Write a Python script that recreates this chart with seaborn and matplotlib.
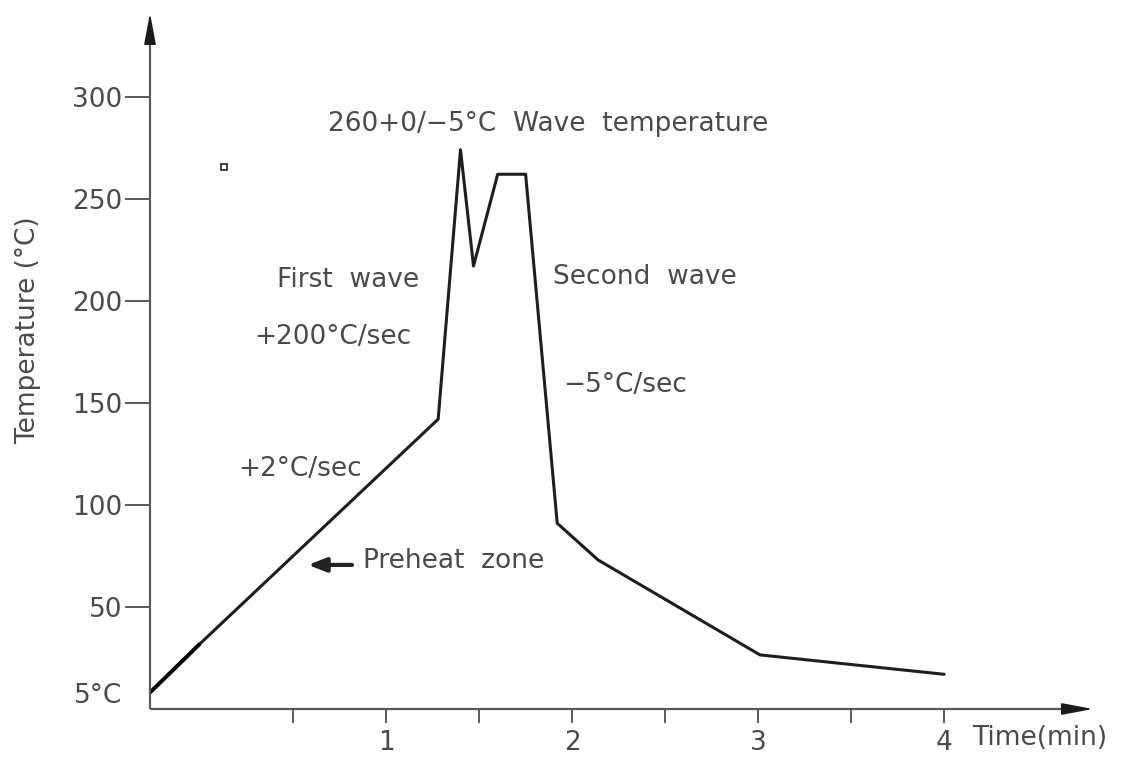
import matplotlib
matplotlib.use("Agg")
import matplotlib.pyplot as plt
import seaborn as sns
import pandas as pd

# ---- data ----
time_min = [-0.27, 0.0, 1.28, 1.40, 1.47, 1.60, 1.75, 1.92, 2.14, 3.01, 4.00]
temp_c = [8, 32, 142, 274, 217, 262, 262, 91, 73, 26.5, 17]
y_ticks = [8, 50, 100, 150, 200, 250, 300]
y_tick_labels = ["5°C", "50", "100", "150", "200", "250", "300"]
x_ticks = [1, 2, 3, 4]
x_tick_labels = ["1", "2", "3", "4"]
x_minor_ticks = [0.5, 1.5, 2.5, 3.5]

sns.set_theme(style="white")
plt.rcParams['font.family'] = ['DejaVu Sans']

W, H = 1121, 758
fig = plt.figure(figsize=(W / 100, H / 100), dpi=100)
ax = fig.add_axes([150 / W, (H - 709) / H, (1093 - 150) / W, (709 - 13) / H])

XMIN, XMAX = -0.269, 4.80
YMIN, YMAX = 0, 341
ax.set_xlim(XMIN, XMAX)
ax.set_ylim(YMIN, YMAX)

df = pd.DataFrame({"time": time_min, "temp": temp_c})
sns.lineplot(data=df, x="time", y="temp", sort=False, estimator=None,
             color="#1e1e1e", linewidth=2.2, ax=ax)
# darker start segment
ax.plot(time_min[:2], temp_c[:2], color="#000000", linewidth=2.8, solid_capstyle="butt")

axis_col = "#5a5a5a"
text_col = "#4a4a4a"

for s in ["top", "right", "left", "bottom"]:
    ax.spines[s].set_visible(False)

# axes lines
ax.plot([XMIN, XMAX - 0.1], [0, 0], color=axis_col, lw=1.6, clip_on=False,
        solid_capstyle="butt")
ax.plot([XMIN, XMIN], [0, YMAX - 10], color=axis_col, lw=1.6, clip_on=False,
        solid_capstyle="butt")
# arrow heads
ax.annotate("", xy=(XMAX, 0), xytext=(XMAX - 0.17, 0), xycoords="data",
            arrowprops=dict(arrowstyle="-|>,head_length=1.6,head_width=0.3",
                            color="#1a1a1a", lw=1.2, shrinkA=0, shrinkB=0),
            annotation_clip=False)
ax.annotate("", xy=(XMIN, YMAX), xytext=(XMIN, YMAX - 15), xycoords="data",
            arrowprops=dict(arrowstyle="-|>,head_length=1.6,head_width=0.3",
                            color="#1a1a1a", lw=1.2, shrinkA=0, shrinkB=0),
            annotation_clip=False)

fs = 19
ax.set_yticks(y_ticks)
ax.set_yticklabels(y_tick_labels, fontsize=fs, color=text_col)
ax.set_xticks(x_ticks)
ax.set_xticklabels(x_tick_labels, fontsize=fs, color=text_col)
ax.set_xticks(x_minor_ticks, minor=True)
ax.tick_params(axis="y", which="major", direction="out", length=18, width=1.4,
               color=axis_col, pad=2, left=True)
ax.tick_params(axis="x", which="both", direction="out", length=10, width=1.4,
               color=axis_col, pad=5, bottom=True)
ax.yaxis.get_major_ticks()[0].tick1line.set_visible(False)
ax.grid(False)
ax.set_xlabel("")
ax.set_ylabel("")

# labels
ax.text(-0.925, 185.8, "Temperature (°C)", rotation=90, ha="center", va="center",
        fontsize=fs, color=text_col, clip_on=False)
ax.text(4.516, -14.2, "Time(min)", ha="center", va="center", fontsize=fs,
        color=text_col, clip_on=False)

# annotations
ax.text(1.87, 286.8, "260+0/−5°C  Wave  temperature", ha="center", va="center",
        fontsize=fs, color=text_col)
ax.text(0.796, 210.3, "First  wave", ha="center", va="center", fontsize=fs, color=text_col)
ax.text(2.39, 211.8, "Second  wave", ha="center", va="center", fontsize=fs, color=text_col)
ax.text(0.715, 182.4, "+200°C/sec", ha="center", va="center", fontsize=fs, color=text_col)
ax.text(2.285, 158.8, "−5°C/sec", ha="center", va="center", fontsize=fs, color=text_col)
ax.text(0.538, 117.6, "+2°C/sec", ha="center", va="center", fontsize=fs, color=text_col)
ax.text(0.876, 72.5, "Preheat  zone", ha="left", va="center", fontsize=fs, color=text_col)
ax.annotate("", xy=(0.58, 70.6), xytext=(0.817, 70.6),
            arrowprops=dict(arrowstyle="-|>,head_length=0.9,head_width=0.35",
                            color="#222222", lw=3, shrinkA=0, shrinkB=0))

# small square mark
ax.plot([0.129], [265.7], marker="s", markersize=5, markerfacecolor="none",
        markeredgecolor="#222222", markeredgewidth=1.2, linestyle="none")

fig.savefig("out.png", dpi=100, facecolor="white")
